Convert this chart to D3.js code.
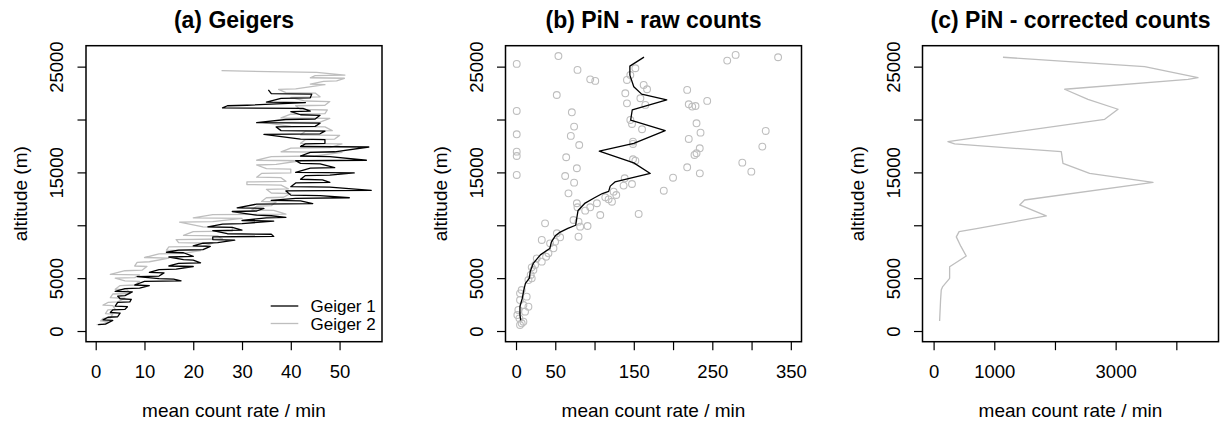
<!DOCTYPE html>
<html><head><meta charset="utf-8">
<script src="https://cdn.jsdelivr.net/npm/d3@7"></script>
<style>
html,body{margin:0;padding:0;background:#fff;}
svg text{font-family:"Liberation Sans",Arial,sans-serif;fill:#000;}
</style></head>
<body><svg id="chart" width="1223" height="423"></svg>
<script>
// ---------- DATA ----------
const panelTitles = ["(a) Geigers", "(b) PiN - raw counts", "(c) PiN - corrected counts"];
const xAxisTitle = "mean count rate / min";
const yAxisTitle = "altitude (m)";
const altitudeTicks = [0, 5000, 10000, 15000, 20000, 25000];
const altitudeTickLabels = ["0", "5000", "", "15000", "", "25000"];
const geigerTicks = [0, 10, 20, 30, 40, 50];
const geigerTickLabels = ["0", "10", "20", "30", "40", "50"];
const pinRawTicks = [0, 50, 100, 150, 200, 250, 300, 350];
const pinRawTickLabels = ["0", "50", "", "150", "", "250", "", "350"];
const pinCorrTicks = [0, 1000, 2000, 3000, 4000];
const pinCorrTickLabels = ["0", "1000", "", "3000", ""];
const legendLabels = ["Geiger 1", "Geiger 2"];

const geiger1Alt = [600,650,1000,1050,1300,1350,1700,1750,2000,2050,2300,2350,2700,2750,3000,3050,3300,3350,3700,3750,4000,4050,4300,4350,4700,4750,4900,4950,5150,5200,5500,5550,5800,5850,6100,6150,6400,6450,6700,6750,7000,7050,7400,7450,7650,7700,8000,8050,8300,8350,8600,8650,8900,8950,9150,9200,9500,9550,9800,9850,10100,10150,10400,10450,10700,10750,10900,10950,11300,11350,11600,11650,12000,12050,12300,12350,12550,12600,12800,12850,13250,13300,13600,13650,14000,14050,14300,14350,14700,14750,14950,15000,15400,15450,15800,15850,16100,16150,16500,16550,16900,16950,17400,17450,17700,17750,18100,18150,18600,18650,18900,18950,19300,19350,19650,19700,20000,20050,20400,20450,20750,20800,21050,21100,21300,21350,21600,21650,22000,22050,22400,22450,22800];
const geiger1Rate = [0.5,2,3.5,1.5,2.5,4.5,5,3,3.5,6,6.5,4,4.5,7,7.3,5,4.5,6,7.5,4,6,9,11,8,10,17.5,16,13,8.5,13,14,11,13,16.5,20,15,17,21.5,20,18,15,20,18,14.5,17,22,23.5,20,22,25,28.5,24,24,36.5,36,27,24,30,28,23,26,30,36.5,30,35,39,36,33,28,33,34.5,29,33,44.5,42,36,41,52,46,40,39,56.5,48,40,41,48,46.5,42,43,48,53,41,44,49,46,42,41,55.5,48,42,44,49,56,42,43,47,47,42,34.5,46,47,38,37,45,46,33,39,45,46,42,40,44,42.5,26,27,31,43,35,38,44,44.3,36,35.4];

const geiger2Alt = [600,650,900,950,1200,1250,1600,1650,2000,2050,2400,2450,2700,2750,3100,3150,3500,3550,3900,3950,4300,4350,4700,4750,5000,5050,5300,5350,5700,5750,6100,6150,6500,6550,6900,6950,7300,7350,7600,7650,7950,8000,8300,8350,8650,8700,9000,9050,9400,9450,9800,9850,10300,10350,10650,10700,11000,11050,11400,11450,11800,11850,12200,12250,12600,12650,13000,13050,13400,13450,13800,13850,14100,14150,14500,14550,14900,14950,15300,15350,15700,15750,16100,16150,16500,16550,16900,16950,17300,17350,17700,17750,18100,18150,18500,18550,18900,18950,19300,19350,19700,19750,20100,20150,20500,20550,20900,20950,21300,21350,21700,21750,22100,22150,22500,22550,22850,22900,23300,23350,23600,23650,23900,23950,24150,24200,24450,24530,24620];
const geiger2Rate = [0.2,1.5,2.5,1,1.5,3,3.5,2,2.5,4,3.5,1.5,2.5,4.5,6,3,3.5,7,6.5,4,5,8,9,6,4,8,9,3,6,9.5,10.5,8,8.5,11,15,10,13,18,21.5,14.5,15,22,24,17,16.5,26,25,18,20,28,28,22,17.2,24,30,20,24,39,36.5,32,33,36,37,34,35,38.5,40,36,35,39.5,38,31,31,39,38,33,34,40,40,35,33,37,42,33,36,45,50.5,38,40,48,50.5,42,43,49,50,42,43,48.5,47,40,34.5,46,48,38,40,47,47.5,42,41,47,48,43,40,46,45,39,37.5,41,47,44,46.7,49.4,51,44,45,51.1,45.3,35.4,25.8];

const pinRawAlt = [25260,26000,24690,23800,23650,22320,24210,24850,23740,22480,21530,22010,23270,22860,21380,20810,20680,22800,21440,21220,21280,21760,19960,19580,19080,19640,18760,18920,18160,18600,19330,18450,17590,17910,17690,17440,17280,16810,16650,16960,16550,16430,16240,16110,15390,15480,15920,15070,14910,14760,14660,14030,14440,13750,13900,14500,13020,13270,12860,25570,26110,25890,13180,12450,12230,12640,12080,11700,11380,11700,12080,10970,11070,10500,10340,9870,9930,8920,10180,8610,9240,8860,8450,8290,7820,7350,7030,6560,6870,6240,6020,5300,4820,4980,5770,3880,3560,2930,3250,2460,2300,1830,1990,1510,1200,730,570,880];
const pinRawRate = [0.9,54,78.3,94.5,100.9,51.9,145.6,152,141.3,139.2,141.3,158.4,162.6,166.9,164.7,0.9,71.1,218,220,224.4,228.6,243.5,145.6,147.7,160.5,229.9,235,318,220,0.9,74,69.8,80.5,149,149,313.7,234,229.9,227.3,0.9,0.9,63.9,149,152,77.5,218,288.2,299.7,234.1,0.9,62.6,74,138.4,137,147.7,200,66.8,188.2,127.7,269,279.7,333.8,124.3,117.9,122.2,113.7,77.5,78.3,88.1,94.5,103,107.3,156.2,73.2,79.6,81.7,91.1,79.6,37,32.8,52,56.2,49.8,43.4,47.7,41.3,38.3,32.8,26.4,24.3,20,18.7,15.8,20,22.1,7.2,5.1,5.1,13.6,9.4,15.8,11.5,3,1.7,4.3,7.2,5.1,9.4];

const pinMeanAlt = [1000,1500,2300,3100,3900,4500,5000,5600,6400,7200,7800,8400,9000,9300,9700,10000,10500,11400,12100,12600,13000,13200,13700,14100,14900,15900,17000,17750,18950,19950,20900,21850,22400,23100,24200,25050,25900];
const pinMeanRate = [6,5,5,8,10,12,17,18,22,31,43,45,50,55,66,76,77,79,88,100,110,118,120,126,171,150,106,150,190,146,148,192,160,150,145,145,163];

const pinCorrAlt = [950,2930,3880,4200,4980,6080,7090,8000,8900,9400,9710,10880,11920,12390,14060,14910,15860,16960,17690,17910,20020,20970,21910,22860,23800,23960,25000,25890];
const pinCorrRate = [99,115,126,150,264,264,538,450,374,420,731,1857,1418,1500,3615,2571,2132,2104,346,236,2819,3039,2544,2159,4192,4357,3478,1143];

// ---------- LAYOUT ----------
const svg = d3.select("#chart");
const boxTop = 45.7, boxH = 296, boxW = 296;
const panels = [
  {left: 86, xDomain: [-1.99, 58.7], ticks: geigerTicks, tickLabels: geigerTickLabels},
  {left: 505.5, xDomain: [-13.4, 363.6], ticks: pinRawTicks, tickLabels: pinRawTickLabels},
  {left: 922.5, xDomain: [-183, 4695], ticks: pinCorrTicks, tickLabels: pinCorrTickLabels}
];
const yDomain = [-1010, 26980];
const grey = "#bebebe";
const fontTick = 18.5, fontLab = 19, fontTitle = 23;

panels.forEach((p, i) => {
  const g = svg.append("g");
  const x = d3.scaleLinear().domain(p.xDomain).range([p.left, p.left + boxW]);
  const y = d3.scaleLinear().domain(yDomain).range([boxTop + boxH, boxTop]);

  const line = (xs, ys) => d3.line().x((d, k) => x(xs[k])).y((d, k) => y(ys[k]))(ys);
  if (i === 0) {
    g.append("path").attr("d", line(geiger2Rate, geiger2Alt)).attr("fill", "none").attr("stroke", grey).attr("stroke-width", 1.3).attr("stroke-linejoin", "round");
    g.append("path").attr("d", line(geiger1Rate, geiger1Alt)).attr("fill", "none").attr("stroke", "#000").attr("stroke-width", 1.3).attr("stroke-linejoin", "round");
    legendLabels.forEach((lab, k) => {
      const ly = 306 + k * 17.5;
      g.append("line").attr("x1", 270.7).attr("x2", 298.3).attr("y1", ly).attr("y2", ly)
        .attr("stroke", k === 0 ? "#000" : grey).attr("stroke-width", 1.3);
      g.append("text").attr("x", 310.5).attr("y", ly + 6).attr("font-size", 17).text(lab);
    });
  } else if (i === 1) {
    g.selectAll("circle").data(pinRawRate).enter().append("circle")
      .attr("cx", (d) => x(d)).attr("cy", (d, k) => y(pinRawAlt[k])).attr("r", 3.4)
      .attr("fill", "none").attr("stroke", grey).attr("stroke-width", 1.1);
    g.append("path").attr("d", line(pinMeanRate, pinMeanAlt)).attr("fill", "none").attr("stroke", "#000").attr("stroke-width", 1.3).attr("stroke-linejoin", "round");
  } else {
    g.append("path").attr("d", line(pinCorrRate, pinCorrAlt)).attr("fill", "none").attr("stroke", grey).attr("stroke-width", 1.3).attr("stroke-linejoin", "round");
  }

  g.append("rect").attr("x", p.left).attr("y", boxTop).attr("width", boxW).attr("height", boxH)
    .attr("fill", "none").attr("stroke", "#000").attr("stroke-width", 1.5);

  const xa = g.append("g").attr("transform", `translate(0,${boxTop + boxH})`)
    .call(d3.axisBottom(x).tickValues(p.ticks).tickSize(8.5).tickFormat((d, k) => p.tickLabels[k]));
  xa.select(".domain").remove();
  xa.selectAll("line").attr("stroke", "#000").attr("stroke-width", 1.2);
  xa.selectAll("text").attr("font-size", fontTick).attr("dy", null).attr("y", 36).attr("fill", "#000")
    .attr("font-family", "Liberation Sans, Arial, sans-serif");

  const ya = g.append("g").attr("transform", `translate(${p.left},0)`)
    .call(d3.axisLeft(y).tickValues(altitudeTicks).tickSize(8.5).tickFormat((d, k) => altitudeTickLabels[k]));
  ya.select(".domain").remove();
  ya.selectAll("line").attr("stroke", "#000").attr("stroke-width", 1.2);
  ya.selectAll("text").attr("font-size", fontTick).attr("fill", "#000")
    .attr("font-family", "Liberation Sans, Arial, sans-serif")
    .attr("x", null).attr("dy", null).attr("text-anchor", "middle")
    .attr("transform", "translate(-23,0) rotate(-90)").attr("y", 0);

  g.append("text").attr("x", p.left + boxW / 2).attr("y", 28).attr("text-anchor", "middle")
    .attr("font-size", fontTitle).attr("font-weight", "bold").text(panelTitles[i]);
  g.append("text").attr("x", p.left + boxW / 2).attr("y", 417).attr("text-anchor", "middle")
    .attr("font-size", fontLab).text(xAxisTitle);
  g.append("text").attr("transform", `translate(${p.left - 59},${boxTop + boxH / 2}) rotate(-90)`)
    .attr("text-anchor", "middle").attr("font-size", fontLab).text(yAxisTitle);
});
</script></body></html>
